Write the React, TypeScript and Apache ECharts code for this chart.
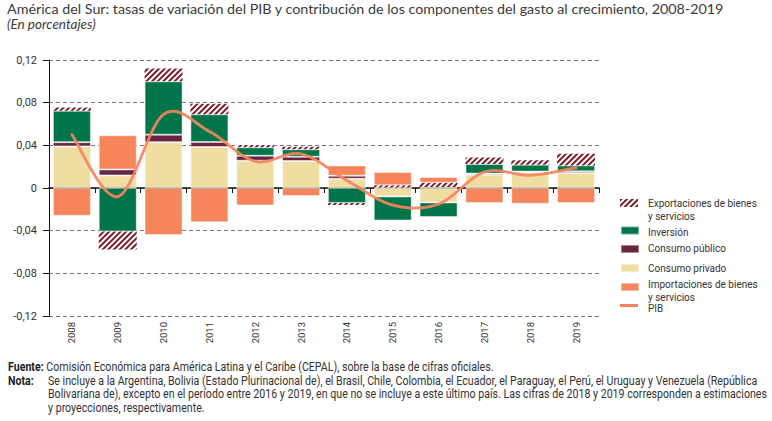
import React, { useEffect, useRef } from "react";
import * as echarts from "echarts";

const years = ["2008", "2009", "2010", "2011", "2012", "2013", "2014", "2015", "2016", "2017", "2018", "2019"];
const consumoPrivado = [0.039, 0.0118, 0.043, 0.0384, 0.0256, 0.0253, 0.0087, -0.0079, -0.0135, 0.0125, 0.0147, 0.014];
const consumoPublico = [0.004, 0.0056, 0.007, 0.0047, 0.0047, 0.004, 0.0028, 0.0005, 0.001, 0.001, 0.0007, 0.0016];
const inversion = [0.0294, -0.0407, 0.05, 0.026, 0.0078, 0.007, -0.014, -0.0225, -0.0137, 0.009, 0.0065, 0.0056];
const exportaciones = [0.003, -0.017, 0.012, 0.01, 0.0023, 0.0024, -0.002, 0.002, 0.004, 0.006, 0.004, 0.011];
const importaciones = [-0.026, 0.032, -0.044, -0.032, -0.0163, -0.0075, 0.0097, 0.0126, 0.0053, -0.014, -0.0147, -0.014];
const pib = [0.05, -0.008, 0.069, 0.053, 0.025, 0.032, 0.007, -0.016, -0.015, 0.015, 0.012, 0.019];
const yTicks = { min: -0.12, max: 0.12, interval: 0.04 };

const N_EXP = "Exportaciones de bienes y servicios";
const N_INV = "Inversión";
const N_PUB = "Consumo público";
const N_PRIV = "Consumo privado";
const N_IMP = "Importaciones de bienes y servicios";
const N_PIB = "PIB";

const legendLabels = [
  ["Exportaciones de bienes", "y servicios"],
  ["Inversión"],
  ["Consumo público"],
  ["Consumo privado"],
  ["Importaciones de bienes", "y servicios"],
  ["PIB"],
];

const footSource = "Comisión Económica para América Latina y el Caribe (CEPAL), sobre la base de cifras oficiales.";
const footNote = [
  "Se incluye a la Argentina, Bolivia (Estado Plurinacional de), el Brasil, Chile, Colombia, el Ecuador, el Paraguay, el Perú, el Uruguay y Venezuela (República",
  "Bolivariana de), excepto en el período entre 2016 y 2019, en que no se incluye a este último país. Las cifras de 2018 y 2019 corresponden a estimaciones",
  "y proyecciones, respectivamente.",
];

const COND = "Roboto, 'Liberation Sans', sans-serif";
const TITLE_FONT = "Lato, 'Open Sans', sans-serif";
const TXT = "#333333";

const C_PRIV = "#F0DDA1";
const C_PUB = "#6B2440";
const C_INV = "#007549";
const C_IMP = "#F6855A";
const C_EXP = "#7A1C28";
const C_PIB = "#F4845F";

function measure(text: string, font: string): number {
  const ctx = document.createElement("canvas").getContext("2d");
  if (!ctx) return text.length * 6;
  ctx.font = font;
  return ctx.measureText(text).width;
}

export default function App() {
  const ref = useRef<HTMLDivElement>(null);
  useEffect(() => {
    document.body.style.margin = "0";
    if (!ref.current) return;
    const chart = echarts.init(ref.current, undefined, { renderer: "svg" });

    const footFont = `12px ${COND}`;
    const sFoot = 710 / measure(footNote[0], footFont);
    const legFont = `11.5px ${COND}`;
    const sLeg = 109 / measure(legendLabels[0][0], legFont);

    const barBorder = { borderColor: "rgba(255,255,255,0.45)", borderWidth: 1 };
    const legendBase = {
      orient: "vertical",
      left: 620,
      itemWidth: 18,
      itemHeight: 8,
      itemGap: 0,
      padding: 0,
      selectedMode: false,
      icon: "rect",
      textStyle: { fontSize: 12, lineHeight: 14, color: "rgba(0,0,0,0)" },
      formatter: () => " ",
    };
    const iconCenters = [203, 230.5, 249, 268, 287, 305.5];
    const legendNames = [N_EXP, N_INV, N_PUB, N_PRIV, N_IMP, N_PIB];
    const textCenters = [[203.5, 216], [232], [248.5], [268.5], [284.5, 297], [308]];

    const graphics: any[] = [];
    legendLabels.forEach((lines, i) => {
      lines.forEach((t, j) => {
        graphics.push({
          type: "text",
          x: 648,
          y: textCenters[i][j],
          scaleX: sLeg,
          style: { text: t, x: 0, y: 0, verticalAlign: "middle", font: legFont, fill: TXT },
        });
      });
    });
    const rich = { b: { fontWeight: "bold", fontFamily: COND, fontSize: 12, fill: "#222" } };
    graphics.push({
      type: "text",
      x: 8,
      y: 367,
      scaleX: sFoot,
      style: { text: "{b|Fuente:} " + footSource, x: 0, y: 0, verticalAlign: "middle", font: footFont, fill: TXT, rich },
    });
    graphics.push({
      type: "text",
      x: 8,
      y: 380.5,
      scaleX: sFoot,
      style: { text: "{b|Nota:}", x: 0, y: 0, verticalAlign: "middle", font: footFont, fill: TXT, rich },
    });
    footNote.forEach((t, i) => {
      graphics.push({
        type: "text",
        x: 48,
        y: 380.5 + i * 13.5,
        scaleX: sFoot,
        style: { text: t, x: 0, y: 0, verticalAlign: "middle", font: footFont, fill: TXT },
      });
    });

    const option: any = {
      animation: false,
      title: {
        text: "América del Sur: tasas de variación del PIB y contribución de los componentes del gasto al crecimiento, 2008-2019",
        subtext: "(En porcentajes)",
        left: 7,
        top: 1,
        padding: 0,
        itemGap: 2,
        textStyle: { fontFamily: TITLE_FONT, fontSize: 14.3, fontWeight: "normal", color: "#3a3a3a" },
        subtextStyle: { fontFamily: TITLE_FONT, fontSize: 13.5, fontStyle: "italic", color: "#3a3a3a" },
      },
      grid: { left: 49, top: 60, width: 550, height: 256, containLabel: false },
      legend: legendNames.map((n, i) => ({
        ...legendBase,
        top: iconCenters[i] - 7,
        itemHeight: n === N_PIB ? 3 : 8,
        data: [n],
      })),
      xAxis: [
        {
          type: "category",
          data: years,
          position: "bottom",
          axisLine: { onZero: true, lineStyle: { color: "#111", width: 1.5 } },
          axisTick: { show: true, length: 5, lineStyle: { color: "#111" } },
          axisLabel: { show: false },
          splitLine: { show: false },
        },
        {
          type: "category",
          data: years,
          position: "bottom",
          axisLine: { show: false, onZero: false },
          axisTick: { show: false },
          axisLabel: { rotate: 90, margin: 6, fontFamily: COND, fontSize: 9.5, color: TXT },
          splitLine: { show: false },
        },
      ],
      yAxis: {
        type: "value",
        min: yTicks.min,
        max: yTicks.max,
        interval: yTicks.interval,
        axisLine: { show: true, lineStyle: { color: "#111", width: 1 } },
        axisTick: { show: true, length: 6, lineStyle: { color: "#111" } },
        axisLabel: {
          margin: 12,
          fontFamily: COND,
          fontSize: 11,
          color: TXT,
          formatter: (v: number) => (Math.abs(v) < 1e-9 ? "0" : v.toFixed(2).replace(".", ",")),
        },
        splitLine: { show: true, lineStyle: { color: "#777", type: [4, 3], width: 1 } },
      },
      series: [
        { name: N_PRIV, type: "bar", stack: "total", barWidth: 38, data: consumoPrivado, itemStyle: { color: C_PRIV, ...barBorder } },
        { name: N_PUB, type: "bar", stack: "total", barWidth: 38, data: consumoPublico, itemStyle: { color: C_PUB, ...barBorder } },
        { name: N_INV, type: "bar", stack: "total", barWidth: 38, data: inversion, itemStyle: { color: C_INV, ...barBorder } },
        {
          name: N_EXP,
          type: "bar",
          stack: "total",
          barWidth: 38,
          data: exportaciones,
          itemStyle: {
            color: "#ffffff",
            borderWidth: 0,
            decal: { symbol: "rect", color: C_EXP, dashArrayX: [1, 0], dashArrayY: [1.6, 1.8], rotation: -Math.PI / 4, symbolSize: 1 },
          },
        },
        { name: N_IMP, type: "bar", stack: "total", barWidth: 38, data: importaciones, itemStyle: { color: C_IMP, ...barBorder } },
        {
          name: N_PIB,
          type: "custom",
          z: 5,
          data: pib.map((v, i) => [i, v]),
          encode: { x: 0, y: 1 },
          itemStyle: { color: C_PIB },
          renderItem: (params: any, api: any) => {
            if (params.dataIndex !== 0) return null;
            const pts = pib.map((v, i) => api.coord([i, v]));
            const n = pts.length;
            let d = `M${pts[0][0]},${pts[0][1]}`;
            for (let i = 0; i < n - 1; i++) {
              const p0 = pts[Math.max(i - 1, 0)];
              const p1 = pts[i];
              const p2 = pts[i + 1];
              const p3 = pts[Math.min(i + 2, n - 1)];
              const c1x = p1[0] + (p2[0] - p0[0]) / 6;
              const c1y = p1[1] + (p2[1] - p0[1]) / 6;
              const c2x = p2[0] - (p3[0] - p1[0]) / 6;
              const c2y = p2[1] - (p3[1] - p1[1]) / 6;
              d += ` C${c1x},${c1y} ${c2x},${c2y} ${p2[0]},${p2[1]}`;
            }
            return {
              type: "path",
              shape: { pathData: d },
              style: { fill: "none", stroke: C_PIB, lineWidth: 3, lineDash: [2, 2], lineCap: "round", opacity: 0.92 },
            };
          },
        },
      ],
      graphic: graphics,
    };
    chart.setOption(option);
    return () => chart.dispose();
  }, []);
  return <div ref={ref} style={{ width: 772, height: 421 }} />;
}
